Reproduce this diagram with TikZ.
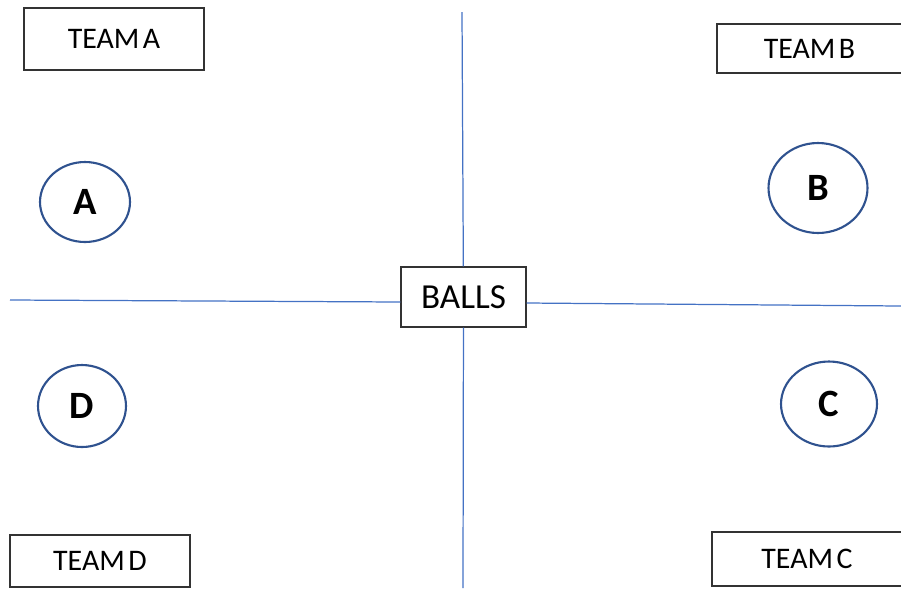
\documentclass[tikz,border=0pt]{standalone}
\usepackage{fontspec}
\setmainfont{Carlito}
\usetikzlibrary{shapes.geometric, positioning}
\definecolor{linieblue}{RGB}{68, 114, 196}
\definecolor{ringblue}{RGB}{47, 82, 143}

\begin{document}
\begin{tikzpicture}[x=0.02cm, y=-0.02cm,
    teambox/.style={rectangle, draw=black!80, line width=0.7pt, inner sep=0pt, font=\fontsize{17}{20}\selectfont},
    player/.style={ellipse, draw=ringblue, line width=1.2pt, inner sep=0pt, font=\fontsize{22}{24}\selectfont\bfseries},
    divider/.style={draw=linieblue, line width=0.7pt}]
    \useasboundingbox (0,0) rectangle (901,589);

    % Centre and field lines
    \node (balls) [teambox, font=\fontsize{20}{24}\selectfont, minimum width=2.5cm, minimum height=1.2cm] at (463.5,297) {BALLS};
    \coordinate (ntop) at (462,12);
    \coordinate (nbot) at (463,588);
    \coordinate (wend) at (10,300);
    \coordinate (eend) at (901,306);
    \draw [divider] (ntop) -- (balls);
    \draw [divider] (balls) -- (nbot);
    \draw [divider] (wend) -- (balls.west |- 0,302);
    \draw [divider] (balls.east |- 0,303) -- (eend);

    % Team boxes
    \node (teamA) [teambox, minimum width=3.6cm, minimum height=1.24cm] at (114,39) {TEAM\hspace{0.12em}A};
    \node (teamB) [teambox, minimum width=3.7cm, minimum height=0.98cm] at (809.5,48.5) {TEAM\hspace{0.12em}B};
    \node (teamC) [teambox, minimum width=3.8cm, minimum height=1.08cm] at (807,559) {TEAM\hspace{0.12em}C};
    \node (teamD) [teambox, minimum width=3.6cm, minimum height=1.04cm] at (100,561) {TEAM\hspace{0.12em}D};

    % Players
    \node (plA) [player, minimum width=1.8cm, minimum height=1.6cm] at (85,202) {A};
    \node (plB) [player, minimum width=1.98cm, minimum height=1.8cm] at (818,188) {B};
    \node (plC) [player, minimum width=1.92cm, minimum height=1.7cm] at (829,404) {C};
    \node (plD) [player, minimum width=1.76cm, minimum height=1.64cm] at (82,406) {D};
\end{tikzpicture}
\end{document}
